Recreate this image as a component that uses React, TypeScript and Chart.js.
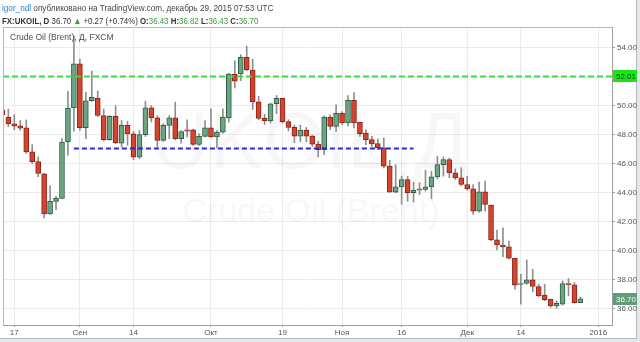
import React, { useEffect, useRef } from "react";
import { Chart, registerables } from "chart.js";

Chart.register(...registerables);

// ---- data ----
const dates = [
  "2015-08-13","2015-08-14","2015-08-17","2015-08-18","2015-08-19","2015-08-20","2015-08-21","2015-08-24","2015-08-25","2015-08-26","2015-08-27","2015-08-28","2015-08-31",
  "2015-09-01","2015-09-02","2015-09-03","2015-09-04","2015-09-07","2015-09-08","2015-09-09","2015-09-10","2015-09-11","2015-09-14","2015-09-15","2015-09-16","2015-09-17","2015-09-18","2015-09-21","2015-09-22","2015-09-23","2015-09-24","2015-09-25","2015-09-28","2015-09-29","2015-09-30",
  "2015-10-01","2015-10-02","2015-10-05","2015-10-06","2015-10-07","2015-10-08","2015-10-09","2015-10-12","2015-10-13","2015-10-14","2015-10-15","2015-10-16","2015-10-19","2015-10-20","2015-10-21","2015-10-22","2015-10-23","2015-10-26","2015-10-27","2015-10-28","2015-10-29","2015-10-30",
  "2015-11-02","2015-11-03","2015-11-04","2015-11-05","2015-11-06","2015-11-09","2015-11-10","2015-11-11","2015-11-12","2015-11-13","2015-11-16","2015-11-17","2015-11-18","2015-11-19","2015-11-20","2015-11-23","2015-11-24","2015-11-25","2015-11-26","2015-11-27","2015-11-30",
  "2015-12-01","2015-12-02","2015-12-03","2015-12-04","2015-12-07","2015-12-08","2015-12-09","2015-12-10","2015-12-11","2015-12-14","2015-12-15","2015-12-16","2015-12-17","2015-12-18","2015-12-21","2015-12-22","2015-12-23","2015-12-24","2015-12-28","2015-12-29",
  "2015-12-30","2015-12-31","2016-01-01",
];

const opens = [
  49.72, 49.20, 48.75, 48.61, 48.48, 46.82, 46.14, 45.30, 42.55, 43.41,
  43.61, 47.50, 49.84, 52.89, 48.48, 50.34, 50.52, 49.32, 47.66, 49.27,
  47.42, 48.64, 48.06, 46.46, 48.00, 49.85, 49.16, 47.61, 48.64, 49.16,
  47.72, 48.34, 48.34, 47.33, 47.88, 48.48, 47.84, 48.18, 49.16, 52.18,
  52.18, 53.33, 52.46, 50.27, 49.14, 48.96, 50.13, 50.50, 48.90, 48.50,
  47.90, 48.32, 47.90, 47.35, 46.97, 49.21, 48.57, 49.49, 48.81, 50.36,
  48.85, 48.12, 47.66, 47.39, 47.09, 45.83, 44.04, 44.41, 44.91, 44.00,
  44.18, 44.23, 44.41, 45.10, 45.94, 46.29, 45.37, 45.03, 44.57, 44.27,
  42.74, 44.07, 43.15, 40.75, 40.40, 40.27, 39.49, 37.68, 37.75, 38.00,
  37.54, 36.95, 36.67, 36.21, 36.33, 37.75, 37.66, 36.43,
];
const highs = [
  49.90, 49.77, 49.39, 48.98, 49.02, 47.32, 46.48, 45.34, 44.48, 43.75,
  47.73, 50.98, 54.80, 53.20, 50.91, 52.39, 51.02, 49.77, 49.32, 50.00,
  48.98, 48.93, 48.22, 48.29, 50.31, 50.01, 49.32, 48.75, 49.32, 50.24,
  48.29, 49.03, 48.38, 48.06, 48.98, 49.78, 48.29, 49.78, 52.23, 53.10,
  53.51, 54.10, 53.21, 50.65, 49.40, 50.17, 50.70, 50.50, 49.03, 48.66,
  48.66, 48.50, 47.98, 47.54, 49.31, 49.37, 50.06, 49.60, 50.70, 50.91,
  48.85, 48.35, 47.89, 47.71, 47.78, 46.24, 45.94, 45.14, 45.14, 44.73,
  44.69, 45.56, 45.49, 46.52, 46.47, 46.40, 45.65, 45.72, 45.14, 44.57,
  44.73, 44.80, 43.15, 41.43, 41.59, 40.68, 39.49, 38.39, 39.37, 38.73,
  37.70, 37.70, 36.67, 36.56, 37.93, 38.09, 37.82, 36.82,
];
const lows = [
  49.20, 48.57, 48.34, 48.30, 46.70, 46.02, 45.11, 42.27, 42.50, 42.84,
  43.57, 46.59, 48.25, 48.30, 47.73, 50.30, 49.25, 47.57, 47.61, 47.39,
  47.15, 47.26, 46.28, 46.35, 47.88, 48.87, 47.15, 47.54, 47.72, 47.65,
  47.42, 47.84, 47.26, 47.26, 47.84, 47.79, 47.10, 48.11, 48.86, 51.22,
  51.73, 52.40, 49.74, 49.03, 48.70, 48.80, 49.45, 48.80, 48.26, 47.45,
  47.52, 47.52, 47.20, 46.47, 46.63, 48.35, 48.23, 48.69, 48.60, 48.46,
  47.89, 47.32, 47.20, 46.97, 45.71, 44.04, 44.00, 43.20, 43.43, 43.36,
  43.88, 44.11, 43.59, 44.96, 45.14, 45.03, 44.91, 44.46, 44.18, 42.51,
  42.67, 42.74, 40.68, 40.06, 39.60, 39.42, 37.36, 36.33, 37.70, 37.18,
  36.83, 36.56, 36.10, 36.05, 36.26, 36.90, 36.40, 36.43,
];
const closes = [
  49.38, 48.75, 48.59, 48.45, 46.82, 46.14, 45.34, 42.55, 43.41, 43.61,
  47.50, 49.84, 52.89, 48.48, 50.34, 50.57, 49.32, 47.66, 49.27, 47.43,
  48.64, 48.06, 46.46, 48.00, 49.85, 49.16, 47.61, 48.64, 49.16, 47.72,
  48.22, 48.25, 47.33, 47.88, 48.48, 47.84, 48.18, 49.21, 52.18, 51.68,
  53.33, 52.46, 50.27, 49.12, 48.96, 50.13, 50.50, 48.90, 48.50, 47.90,
  48.32, 47.90, 47.35, 46.97, 49.21, 48.57, 49.49, 48.81, 50.36, 48.81,
  48.07, 47.66, 47.37, 47.09, 45.83, 44.04, 44.41, 44.91, 44.00, 44.18,
  44.27, 44.41, 45.10, 45.94, 46.29, 45.37, 45.03, 44.57, 44.27, 42.74,
  44.07, 43.20, 40.75, 40.40, 40.27, 39.49, 37.63, 37.75, 38.00, 37.54,
  36.90, 36.63, 36.21, 36.38, 37.75, 37.66, 36.43, 36.70,
];

const yTicks = [36, 38, 40, 42, 44, 46, 48, 50, 52, 54];
const xTickDates = ["2015-08-17","2015-09-01","2015-09-14","2015-10-01","2015-10-19","2015-11-02","2015-11-16","2015-12-01","2015-12-14","2016-01-01"];
const xTickLabels = ["17","Сен","14","Окт","19","Ноя","16","Дек","14","2016"];

const resistanceLevel = 52.01;
const supportLevel = 47.05;
const supportFrom = "2015-08-31";
const supportTo = "2015-11-18";
const lastPrice = 36.70;

const UP_FILL = "#6aa584";
const UP_LINE = "#2f5f42";
const DN_FILL = "#d4442f";
const DN_LINE = "#8a2418";

export default function App() {
  const ref = useRef<HTMLCanvasElement | null>(null);

  useEffect(() => {
    const canvas = ref.current;
    if (!canvas) return;
    const idx = (d: string) => dates.indexOf(d);
    const xTickIdx = xTickDates.map(idx);
    const up = closes.map((c, i) => c >= opens[i]);

    const wickData = highs.map((h, i) => ({ x: i, y: [lows[i], h] }));
    const bodyData = opens.map((o, i) => ({ x: i, y: [o, closes[i]] }));

    const xMin = 0.1;
    const xMax = 102.3;

    const overlay = {
      id: "overlay",
      beforeDatasetsDraw(chart: any) {
        const { ctx, chartArea: a } = chart;
        ctx.save();
        ctx.beginPath();
        ctx.rect(a.left, a.top, a.right - a.left, a.bottom - a.top);
        ctx.clip();
        ctx.fillStyle = "rgba(0,0,0,0.03)";
        ctx.textAlign = "center";
        ctx.textBaseline = "alphabetic";
        ctx.font = "80px 'Liberation Sans', Arial, sans-serif";
        ctx.fillText("UKOIL,Д", 310, 168);
        ctx.font = "34px 'Liberation Sans', Arial, sans-serif";
        ctx.fillText("Crude Oil (Brent)", 311, 222);
        ctx.restore();
      },
      afterDraw(chart: any) {
        const { ctx, chartArea: a, scales } = chart;
        ctx.save();
        ctx.strokeStyle = "#b9b9b9";
        ctx.lineWidth = 1;
        ctx.beginPath();
        ctx.moveTo(a.left + 0.5, a.top);
        ctx.lineTo(a.left + 0.5, a.bottom);
        ctx.moveTo(a.left, a.top + 0.5);
        ctx.lineTo(a.right, a.top + 0.5);
        ctx.stroke();
        ctx.fillStyle = "#4d4d4d";
        ctx.font = "8.5px 'Liberation Sans', Arial, sans-serif";
        ctx.textAlign = "left";
        ctx.textBaseline = "middle";
        ctx.fillText("Crude Oil (Brent), Д, FXCM", a.left + 7, 38);
        const y = scales.y;
        const drawLabel = (v: number, bg: string, fg: string) => {
          const py = Math.round(y.getPixelForValue(v));
          ctx.fillStyle = bg;
          ctx.fillRect(a.right + 1, py - 6, 24, 12);
          ctx.fillStyle = fg;
          ctx.font = "8px 'Liberation Sans', Arial, sans-serif";
          ctx.textAlign = "left";
          ctx.textBaseline = "middle";
          ctx.fillText(v.toFixed(2), a.right + 4, py + 0.5);
        };
        drawLabel(resistanceLevel, "#19e619", "#1c3d1c");
        drawLabel(lastPrice, "#5f9c78", "#ffffff");
        ctx.restore();
      },
    };

    const chart = new Chart(canvas, {
      type: "bar",
      data: {
        datasets: [
          {
            type: "line",
            data: [
              { x: xMin, y: resistanceLevel },
              { x: xMax, y: resistanceLevel },
            ],
            borderColor: "#3fdc3f",
            borderWidth: 2,
            borderDash: [6, 3],
            pointRadius: 0,
            order: 0,
          } as any,
          {
            type: "line",
            data: [
              { x: idx(supportFrom), y: supportLevel },
              { x: idx(supportTo), y: supportLevel },
            ],
            borderColor: "#2929d6",
            borderWidth: 2,
            borderDash: [5, 3],
            pointRadius: 0,
            order: 0,
          } as any,
          {
            type: "bar",
            data: bodyData as any,
            backgroundColor: up.map((u) => (u ? UP_FILL : DN_FILL)),
            borderColor: up.map((u) => (u ? UP_LINE : DN_LINE)),
            borderWidth: 1,
            borderSkipped: false,
            barThickness: 5,
            grouped: false,
            order: 1,
          } as any,
          {
            type: "bar",
            data: wickData as any,
            backgroundColor: "#8f8f8f",
            borderWidth: 0,
            barThickness: 1,
            grouped: false,
            order: 2,
          } as any,
        ],
      },
      options: {
        responsive: false,
        animation: false,
        layout: { padding: { top: 27, left: 3, right: 0, bottom: 0 } },
        plugins: { legend: { display: false }, tooltip: { enabled: false } },
        scales: {
          x: {
            type: "linear",
            offset: false,
            min: xMin,
            max: xMax,
            position: "bottom",
            grid: { color: "#ebebeb", tickLength: 2, tickColor: "#999", offset: false },
            border: { color: "#a0a0a0" },
            afterBuildTicks: (s: any) => {
              s.ticks = xTickIdx.map((v) => ({ value: v }));
            },
            afterFit: (s: any) => {
              s.height = 17;
            },
            ticks: {
              autoSkip: false,
              maxRotation: 0,
              padding: 1,
              color: "#555",
              font: { size: 8, family: "'Liberation Sans', Arial, sans-serif" },
              callback: (v: any) => {
                const k = xTickIdx.indexOf(Number(v));
                return k >= 0 ? xTickLabels[k] : "";
              },
            },
          },
          y: {
            type: "linear",
            position: "right",
            min: 34.89,
            max: 55.42,
            grid: { color: "#ebebeb", tickLength: 3, tickColor: "#999" },
            border: { color: "#a0a0a0" },
            afterBuildTicks: (s: any) => {
              s.ticks = yTicks.map((v) => ({ value: v }));
            },
            afterFit: (s: any) => {
              s.width = 28;
            },
            ticks: {
              padding: 2,
              color: "#555",
              font: { size: 8, family: "'Liberation Sans', Arial, sans-serif" },
              callback: (v: any) => Number(v).toFixed(2),
            },
          },
        },
      },
      plugins: [overlay],
    });
    return () => chart.destroy();
  }, []);

  const font = "'Liberation Sans', Arial, sans-serif";
  const green = "#3c9a3c";
  const lineStyle: React.CSSProperties = {
    position: "absolute",
    left: 2,
    fontFamily: font,
    fontSize: 9.5,
    lineHeight: "12px",
    whiteSpace: "nowrap",
    transform: "scaleX(0.86)",
    transformOrigin: "left center",
  };
  return (
    <div style={{ position: "absolute", left: 0, top: 0, width: 640, height: 342, background: "#e3e7ea", overflow: "hidden" }}>
      <div style={{ position: "absolute", left: 0, top: 0, width: 636, height: 338, background: "#fff", borderRight: "1px solid #b5b9bd", borderBottom: "1px solid #b5b9bd" }} />
      <canvas ref={ref} width={640} height={342} style={{ position: "absolute", left: 0, top: 0, width: 640, height: 342 }} />
      <div style={{ ...lineStyle, top: 2, color: "#444" }}>
        <span style={{ color: "#2a82c8" }}>igor_ndl</span> опубликовано на TradingView.com, декабрь 29, 2015 07:53 UTC
      </div>
      <div style={{ ...lineStyle, top: 15, color: "#333", transform: "scaleX(0.83)" }}>
        <b>FX:UKOIL, D</b> 36.70 <span style={{ color: green }}>▲</span> +0.27 (+0.74%) <b>O:</b><span style={{ color: green }}>36.43</span> <b>H:</b><span style={{ color: green }}>36.82</span> <b>L:</b><span style={{ color: green }}>36.43</span> <b>C:</b><span style={{ color: green }}>36.70</span>
      </div>
    </div>
  );
}
